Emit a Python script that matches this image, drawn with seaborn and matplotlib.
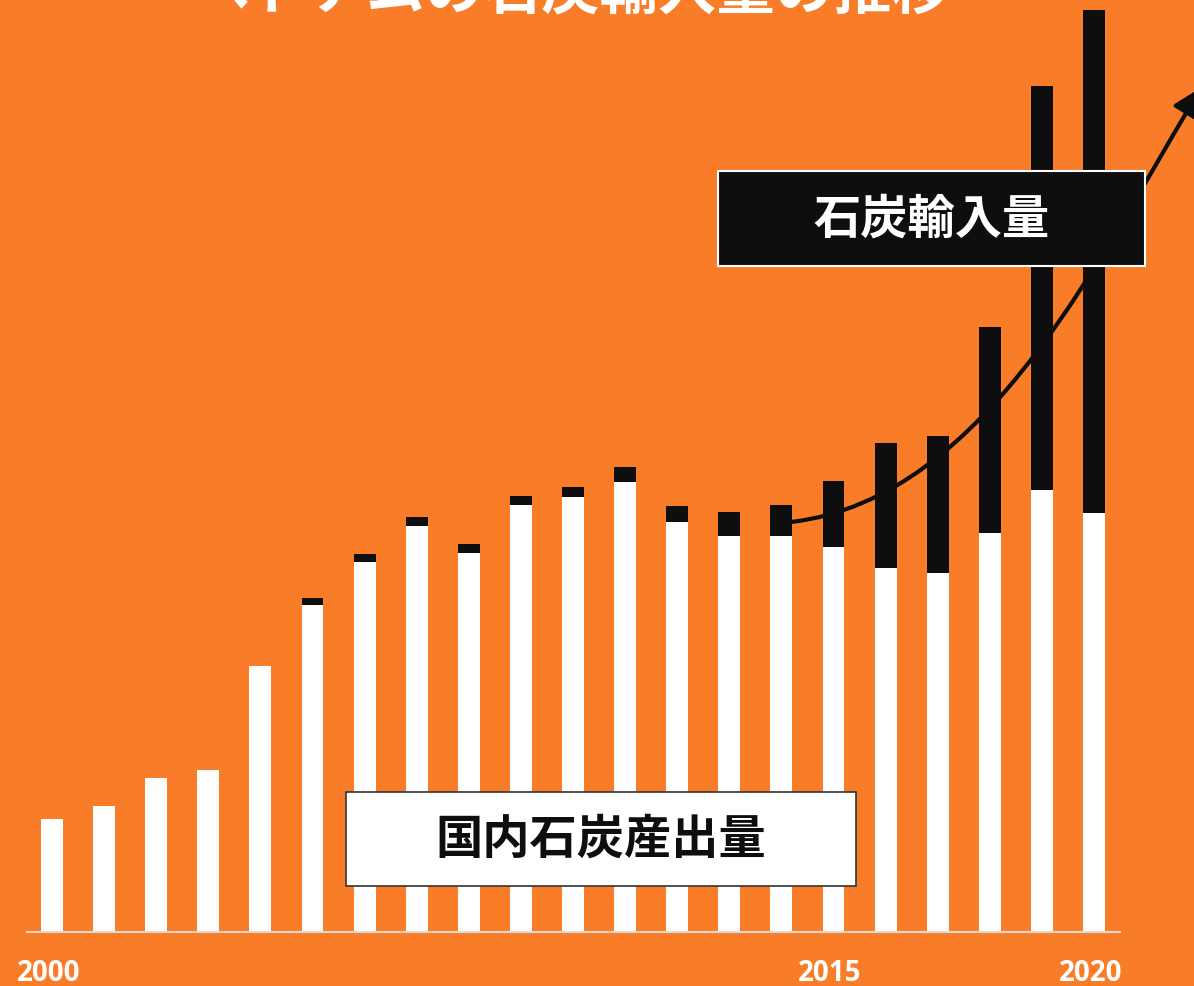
import numpy as np
import pandas as pd
import seaborn as sns
import matplotlib.pyplot as plt
from matplotlib.path import Path
from matplotlib.patches import FancyArrowPatch, Rectangle

# Vietnam coal: domestic production and imports (million tonnes)
years = list(range(2000, 2021))
production = [11.8, 13.1, 16.0, 16.9, 27.7, 34.1, 38.5, 42.3, 39.5, 44.5, 45.3,
              46.9, 42.7, 41.3, 41.3, 40.1, 37.9, 37.4, 41.6, 46.0, 43.6]
imports = [0.0, 0.0, 0.0, 0.0, 0.0, 0.7, 0.9, 0.9, 0.9, 0.9, 1.1,
           1.5, 1.7, 2.4, 3.2, 6.9, 13.0, 14.3, 21.4, 42.1, 52.4]
tick_years = [2000, 2015, 2020]

title_text = "ベトナムの石炭輸入量の推移"
label_import = "石炭輸入量"
label_domestic = "国内石炭産出量"

ORANGE = "#F97D28"
BLACK = "#0E0E0E"

sns.set_theme(style="white")
plt.rcParams["font.family"] = ["Noto Sans CJK JP", "DejaVu Sans"]

df = pd.DataFrame({
    "year": [str(y) for y in years],
    "production": production,
    "imports": imports,
})
df["total"] = df["production"] + df["imports"]

W, H = 1194, 987
fig = plt.figure(figsize=(W / 100, H / 100), dpi=100, facecolor=ORANGE)
ax = fig.add_axes([27 / W, (H - 933) / H, (1120 - 27) / W, 933 / H])
ax.set_facecolor(ORANGE)

# stacked bars: total in black, domestic share in white on top of it
sns.barplot(data=df, x="year", y="total", color=BLACK, width=0.42,
            saturation=1, linewidth=0, errorbar=None, ax=ax, zorder=2)
sns.barplot(data=df, x="year", y="production", color="white", width=0.42,
            saturation=1, linewidth=0, errorbar=None, ax=ax, zorder=3)

ax.set_xlim(-0.48, 20.5)
ax.set_ylim(0, 933 / 9.6)
ax.set_xlabel("")
ax.set_ylabel("")
ax.set_yticks([])
ax.set_xticks([years.index(y) - 0.067 for y in tick_years])
ax.set_xticklabels([str(y) for y in tick_years], fontfamily="Open Sans",
                   fontweight="bold", fontsize=20, color="white")
ax.tick_params(axis="x", length=0, pad=19)
for side in ("left", "right", "top"):
    ax.spines[side].set_visible(False)
ax.spines["bottom"].set_color("#E2D8CF")
ax.spines["bottom"].set_linewidth(1.5)
ax.spines["bottom"].set_zorder(4)

# upward trend arrow for imports
def to_data(px, py):
    return ((px - 52) / 52.1, (933 - py) / 9.6)

verts = [to_data(791, 523), to_data(990, 500), to_data(1105, 245), to_data(1202, 88)]
codes = [Path.MOVETO, Path.CURVE4, Path.CURVE4, Path.CURVE4]
arrow = FancyArrowPatch(path=Path(verts, codes), transform=ax.transData,
                        arrowstyle="-|>,head_length=0.9,head_width=0.45",
                        mutation_scale=20, lw=3, color=BLACK, clip_on=False,
                        zorder=5)
ax.add_patch(arrow)

# label boxes
fig.patches.append(Rectangle((718 / W, (H - 267) / H), 427 / W, 95 / H,
                             transform=fig.transFigure, facecolor=BLACK,
                             edgecolor="white", lw=1.5, zorder=6))
fig.text(931.5 / W, (H - 220) / H, label_import, ha="center", va="center",
         fontsize=34, fontweight="bold", color="white", zorder=7)

fig.patches.append(Rectangle((346 / W, (H - 887) / H), 510 / W, 94 / H,
                             transform=fig.transFigure, facecolor="white",
                             edgecolor="#333333", lw=1.2, zorder=6))
fig.text(601 / W, (H - 840) / H, label_domestic, ha="center", va="center",
         fontsize=34, fontweight="bold", color=BLACK, zorder=7)

# title, partly above the top edge
fig.text(571 / W, 1 + 7 / H, title_text, ha="center", va="center",
         fontsize=42, fontweight="bold", color="white")

fig.savefig("out.png", dpi=100, facecolor=ORANGE)
